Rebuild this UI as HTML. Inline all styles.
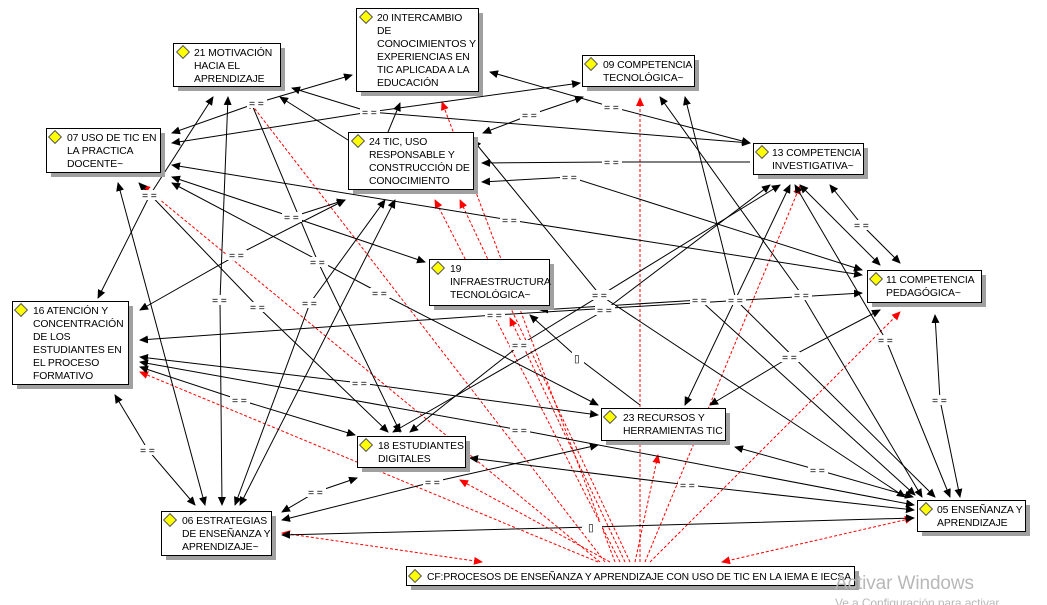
<!DOCTYPE html>
<html><head><meta charset="utf-8"><style>
html,body{margin:0;padding:0;background:#fff;width:1047px;height:605px;overflow:hidden}
svg{display:block}
text{font-family:"Liberation Sans",sans-serif;font-size:10.4px;fill:#000;letter-spacing:-0.1px}
.l{font-size:10px}
</style></head><body>
<svg width="1047" height="605" viewBox="0 0 1047 605" xmlns="http://www.w3.org/2000/svg">
<defs>
<marker id="a" markerWidth="9" markerHeight="8" refX="8" refY="4" orient="auto-start-reverse" markerUnits="userSpaceOnUse"><path d="M0,0L9,4L0,8z" fill="#000"/></marker>
<marker id="r" markerWidth="9" markerHeight="8" refX="8" refY="4" orient="auto-start-reverse" markerUnits="userSpaceOnUse"><path d="M0,0L9,4L0,8z" fill="#f00"/></marker>
<g id="ic"><rect x="-4.5" y="-4.5" width="9" height="9" fill="#ff0" stroke="#555" stroke-width="1" transform="rotate(45)"/></g>
</defs>

<g stroke="#f00" stroke-width="1" stroke-dasharray="3,2" fill="none" marker-end="url(#r)">
<path d="M600,562L142,185"/>
<path d="M605,562L248,100"/>
<path d="M615,562L442,102"/>
<path d="M620,562L435,200"/>
<path d="M625,562L510,318"/>
<path d="M598,562L140,372"/>
<path d="M610,562L460,480"/>
<path d="M635,562L658,455"/>
<path d="M640,562L640,98"/>
<path d="M645,562L800,186"/>
<path d="M650,562L900,312"/>
<path d="M630,562L460,200"/>
<path d="M482,562L282,533" marker-start="url(#r)"/>
<path d="M722,562L913,518" marker-start="url(#r)"/>
</g>

<g stroke="#000" stroke-width="1" fill="none" marker-end="url(#a)" marker-start="url(#a)">
<path d="M172,133L257,103L352,75"/>
<path d="M172,143L370,112L580,83"/>
<path d="M292,88L370,112L750,143"/>
<path d="M490,72L612,107L750,143"/>
<path d="M483,133L530,115L583,97"/>
<path d="M482,182L570,177L862,270"/>
<path d="M172,165L510,220L862,275"/>
<path d="M172,177L292,217L425,262"/>
<path d="M172,183L380,293L598,405"/>
<path d="M139,183L258,307L388,432"/>
<path d="M118,183L205,505"/>
<path d="M213,97L150,195L98,298"/>
<path d="M228,97L220,300L222,505"/>
<path d="M250,100L318,262L400,432"/>
<path d="M140,310L237,255L345,200"/>
<path d="M140,340L495,315L862,293"/>
<path d="M140,357L360,383L598,415"/>
<path d="M140,362L520,430L914,505"/>
<path d="M140,367L240,400L355,435"/>
<path d="M115,395L148,450L195,505"/>
<path d="M385,200L310,303L235,505"/>
<path d="M395,200L240,505"/>
<path d="M282,512L316,492L357,478"/>
<path d="M282,520L433,482L598,445"/>
<path d="M282,535L592,527L914,518"/>
<path d="M470,458L688,485L914,510"/>
<path d="M393,432L605,310L770,185"/>
<path d="M410,432L520,345L780,185"/>
<path d="M685,405L790,185"/>
<path d="M710,405L790,357L880,310"/>
<path d="M735,447L818,470L913,497"/>
<path d="M540,310L700,300L915,495"/>
<path d="M900,263L862,225L830,185"/>
<path d="M880,265L800,185"/>
<path d="M660,97L802,295L922,497"/>
<path d="M685,97L736,300L935,497"/>
<path d="M473,140L600,295L905,497"/>
<path d="M935,315L940,400L960,497"/>
<path d="M795,185L886,340L950,497"/>
</g>
<g stroke="#000" stroke-width="1" fill="none" marker-end="url(#a)">
<path d="M348,140L280,97"/>
<path d="M388,132L400,103"/>
<path d="M750,162L612,162L482,163"/>
<path d="M292,217L345,200"/>
<path d="M640,405L578,358L530,315"/>
</g>

<g class="l">
<g fill="#fff">
<rect x="247" y="98" width="20" height="10"/><rect x="360" y="107" width="20" height="10"/><rect x="602" y="102" width="20" height="10"/>
<rect x="520" y="110" width="20" height="10"/><rect x="602" y="157" width="20" height="10"/><rect x="560" y="172" width="20" height="10"/>
<rect x="500" y="215" width="20" height="10"/><rect x="282" y="212" width="20" height="10"/><rect x="370" y="288" width="20" height="10"/>
<rect x="248" y="302" width="20" height="10"/><rect x="140" y="190" width="20" height="10"/><rect x="210" y="295" width="20" height="10"/>
<rect x="308" y="257" width="20" height="10"/><rect x="227" y="250" width="20" height="10"/><rect x="485" y="310" width="20" height="10"/>
<rect x="350" y="378" width="20" height="10"/><rect x="510" y="425" width="20" height="10"/><rect x="230" y="395" width="20" height="10"/>
<rect x="138" y="445" width="20" height="10"/><rect x="300" y="298" width="20" height="10"/><rect x="306" y="487" width="20" height="10"/>
<rect x="423" y="477" width="20" height="10"/><rect x="678" y="480" width="20" height="10"/><rect x="595" y="305" width="20" height="10"/>
<rect x="510" y="340" width="20" height="10"/><rect x="780" y="352" width="20" height="10"/><rect x="808" y="465" width="20" height="10"/>
<rect x="690" y="295" width="20" height="10"/><rect x="852" y="220" width="20" height="10"/><rect x="792" y="290" width="20" height="10"/>
<rect x="726" y="295" width="20" height="10"/><rect x="590" y="290" width="20" height="10"/><rect x="930" y="395" width="20" height="10"/>
<rect x="876" y="335" width="20" height="10"/><rect x="582" y="522" width="20" height="10"/><rect x="572" y="352" width="12" height="12"/>
</g>
<text x="249" y="107">= =</text><text x="362" y="116">= =</text><text x="604" y="111">= =</text>
<text x="522" y="119">= =</text><text x="604" y="166">= =</text><text x="562" y="181">= =</text>
<text x="502" y="224">= =</text><text x="284" y="221">= =</text><text x="372" y="297">= =</text>
<text x="250" y="311">= =</text><text x="142" y="199">= =</text><text x="212" y="304">= =</text>
<text x="310" y="266">= =</text><text x="229" y="259">= =</text><text x="487" y="319">= =</text>
<text x="352" y="387">= =</text><text x="512" y="434">= =</text><text x="232" y="404">= =</text>
<text x="140" y="454">= =</text><text x="302" y="307">= =</text><text x="308" y="496">= =</text>
<text x="425" y="486">= =</text><text x="680" y="489">= =</text><text x="597" y="314">= =</text>
<text x="512" y="349">= =</text><text x="782" y="361">= =</text><text x="810" y="474">= =</text>
<text x="692" y="304">= =</text><text x="854" y="229">= =</text><text x="794" y="299">= =</text>
<text x="728" y="304">= =</text><text x="592" y="299">= =</text><text x="932" y="404">= =</text>
<text x="878" y="344">= =</text><text x="588" y="531">▯</text><text x="574" y="362">▯</text>
</g>

<g>
<g fill="#a0a0a0">
<rect x="178" y="48" width="107" height="43"/><rect x="361" y="13" width="122" height="83"/>
<rect x="51" y="133" width="114" height="44"/><rect x="353" y="137" width="125" height="57"/>
<rect x="587" y="60" width="112" height="31"/><rect x="758" y="148" width="110" height="31"/>
<rect x="434" y="264" width="120" height="46"/><rect x="872" y="275" width="114" height="32"/>
<rect x="17" y="306" width="116" height="83"/><rect x="606" y="413" width="124" height="32"/>
<rect x="362" y="441" width="108" height="31"/><rect x="166" y="516" width="110" height="44"/>
<rect x="922" y="505" width="108" height="31"/><rect x="411" y="571" width="448" height="19"/>
</g>
<g fill="#fff" stroke="#000" stroke-width="1">
<rect x="173.5" y="43.5" width="107" height="43"/><rect x="356.5" y="8.5" width="122" height="83"/>
<rect x="46.5" y="128.5" width="114" height="44"/><rect x="348.5" y="132.5" width="125" height="57"/>
<rect x="582.5" y="55.5" width="112" height="31"/><rect x="753.5" y="143.5" width="110" height="31"/>
<rect x="429.5" y="259.5" width="120" height="46"/><rect x="867.5" y="270.5" width="114" height="32"/>
<rect x="12.5" y="301.5" width="116" height="83"/><rect x="601.5" y="408.5" width="124" height="32"/>
<rect x="357.5" y="436.5" width="108" height="31"/><rect x="161.5" y="511.5" width="110" height="44"/>
<rect x="917.5" y="500.5" width="108" height="31"/><rect x="406.5" y="566.5" width="448" height="19"/>
</g>
<use href="#ic" x="183" y="52"/><use href="#ic" x="366" y="17"/><use href="#ic" x="55" y="137"/>
<use href="#ic" x="358" y="141"/><use href="#ic" x="591" y="64"/><use href="#ic" x="762" y="152"/>
<use href="#ic" x="438" y="268"/><use href="#ic" x="876" y="279"/><use href="#ic" x="21" y="310"/>
<use href="#ic" x="610" y="417"/><use href="#ic" x="366" y="445"/><use href="#ic" x="170" y="520"/>
<use href="#ic" x="926" y="509"/><use href="#ic" x="415" y="576"/>

<text x="194" y="56">21 MOTIVACIÓN<tspan x="194" dy="13">HACIA EL</tspan><tspan x="194" dy="13">APRENDIZAJE</tspan></text>
<text x="377" y="21">20 INTERCAMBIO<tspan x="377" dy="13">DE</tspan><tspan x="377" dy="13" textLength="99" lengthAdjust="spacingAndGlyphs">CONOCIMIENTOS Y</tspan><tspan x="377" dy="13">EXPERIENCIAS EN</tspan><tspan x="377" dy="13">TIC APLICADA A LA</tspan><tspan x="377" dy="13">EDUCACIÓN</tspan></text>
<text x="67" y="141">07 USO DE TIC EN<tspan x="67" dy="13">LA PRACTICA</tspan><tspan x="67" dy="13">DOCENTE~</tspan></text>
<text x="369" y="145">24 TIC, USO<tspan x="369" dy="13">RESPONSABLE Y</tspan><tspan x="369" dy="13">CONSTRUCCIÓN DE</tspan><tspan x="369" dy="13">CONOCIMIENTO</tspan></text>
<text x="603" y="68">09 COMPETENCIA<tspan x="603" dy="13">TECNOLÓGICA~</tspan></text>
<text x="772" y="156">13 COMPETENCIA<tspan x="772" dy="13">INVESTIGATIVA~</tspan></text>
<text x="450" y="272">19<tspan x="450" dy="13">INFRAESTRUCTURA</tspan><tspan x="450" dy="13">TECNOLÓGICA~</tspan></text>
<text x="886" y="283">11 COMPETENCIA<tspan x="886" dy="13">PEDAGÓGICA~</tspan></text>
<text x="33" y="314">16 ATENCIÓN Y<tspan x="33" dy="13">CONCENTRACIÓN</tspan><tspan x="33" dy="13">DE LOS</tspan><tspan x="33" dy="13">ESTUDIANTES EN</tspan><tspan x="33" dy="13">EL PROCESO</tspan><tspan x="33" dy="13">FORMATIVO</tspan></text>
<text x="623" y="421">23 RECURSOS Y<tspan x="623" dy="13">HERRAMIENTAS TIC</tspan></text>
<text x="378" y="449">18 ESTUDIANTES<tspan x="378" dy="13">DIGITALES</tspan></text>
<text x="182" y="524">06 ESTRATEGIAS<tspan x="182" dy="13">DE ENSEÑANZA Y</tspan><tspan x="182" dy="13">APRENDIZAJE~</tspan></text>
<text x="937" y="513">05 ENSEÑANZA Y<tspan x="937" dy="13">APRENDIZAJE</tspan></text>
<text x="427" y="580" textLength="424" lengthAdjust="spacingAndGlyphs">CF:PROCESOS DE ENSEÑANZA Y APRENDIZAJE CON USO DE TIC EN LA IEMA E IECSA</text>
</g>
<text x="835" y="589" style="font-size:19px;fill:#b8b8b8">Activar Windows</text>
<text x="835" y="607" style="font-size:12px;fill:#b8b8b8">Ve a Configuración para activar</text>
</svg>
</body></html>
